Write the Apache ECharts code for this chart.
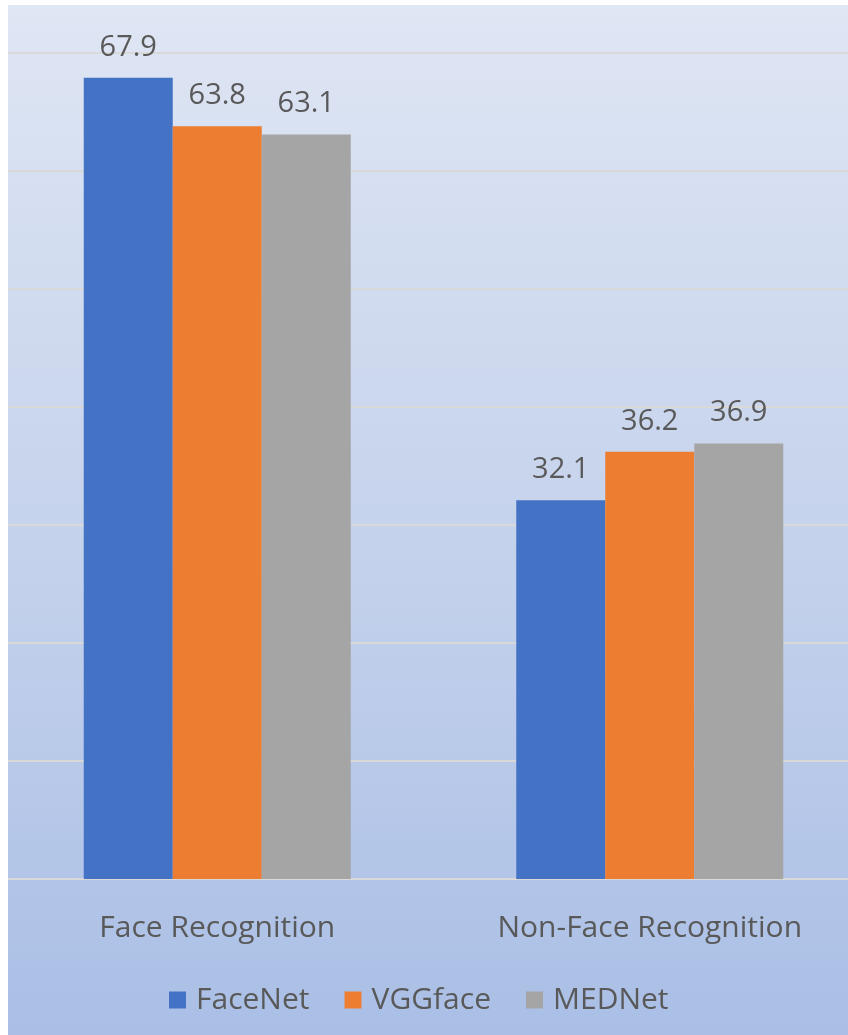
<!DOCTYPE html>
<html>
<head>
<meta charset="utf-8">
<script src="https://cdn.jsdelivr.net/npm/echarts@6/dist/echarts.min.js"></script>
<style>
  html, body { margin: 0; padding: 0; background: #ffffff; overflow: hidden; }
  /* canvas runs a little past the window's right edge; the plot is cut off there */
  #chart { width: 866px; height: 1035px; }
</style>
</head>
<body>
<div id="chart"></div>
<script>
// Recognition accuracy per task, by network
const categories = ['Face Recognition', 'Non-Face Recognition'];
const seriesNames = ['FaceNet', 'VGGface', 'MEDNet'];
const faceNet = [67.9, 32.1];
const vggFace = [63.8, 36.2];
const medNet = [63.1, 36.9];
const seriesColors = ['#4472C4', '#ED7D31', '#A5A5A5'];

const values = [faceNet, vggFace, medNet];
const FONT = '"Open Sans", "Noto Sans", sans-serif';
const TEXT = '#595959';

const chart = echarts.init(document.getElementById('chart'), null, { renderer: 'canvas' });

chart.setOption({
  animation: false,
  backgroundColor: '#ffffff',
  graphic: [
    {
      type: 'rect',
      z: -10,
      silent: true,
      shape: { x: 8, y: 5, width: 858, height: 1030 },
      style: {
        fill: new echarts.graphic.LinearGradient(0, 0, 0, 1, [
          { offset: 0, color: '#dfe6f4' },
          { offset: 0.5, color: '#c6d3ec' },
          { offset: 1, color: '#aabfe6' }
        ])
      }
    },
    {
      type: 'rect', z: 100, silent: true,
      shape: { x: 0, y: 0, width: 8, height: 1035 },
      style: { fill: '#ffffff' }
    }
  ],
  grid: { left: 1, right: 0, top: 53, bottom: 156, containLabel: false },
  legend: {
    data: seriesNames,
    left: 164,
    top: 980,
    itemWidth: 17,
    itemHeight: 17,
    itemGap: 35,
    icon: 'rect',
    textStyle: { color: TEXT, fontSize: 30, fontFamily: FONT, padding: [0, 0, 0, 5] }
  },
  xAxis: {
    type: 'category',
    data: categories,
    axisLine: { lineStyle: { color: '#d9d9d9', width: 2 } },
    axisTick: { show: false },
    axisLabel: { color: TEXT, fontSize: 30, fontFamily: FONT, margin: 34 }
  },
  yAxis: {
    type: 'value',
    min: 0,
    max: 70,
    interval: 10,
    axisLine: { show: false },
    axisTick: { show: false },
    axisLabel: { show: false },
    splitLine: { lineStyle: { color: '#d9d9d9', width: 2 } }
  },
  series: seriesNames.map((name, i) => ({
    name,
    type: 'bar',
    data: values[i],
    barWidth: 89,
    barGap: '0%',
    itemStyle: { color: seriesColors[i] },
    label: {
      show: true,
      position: 'top',
      distance: 16,
      color: TEXT,
      fontSize: 29,
      fontFamily: FONT
    }
  }))
});
</script>
</body>
</html>
